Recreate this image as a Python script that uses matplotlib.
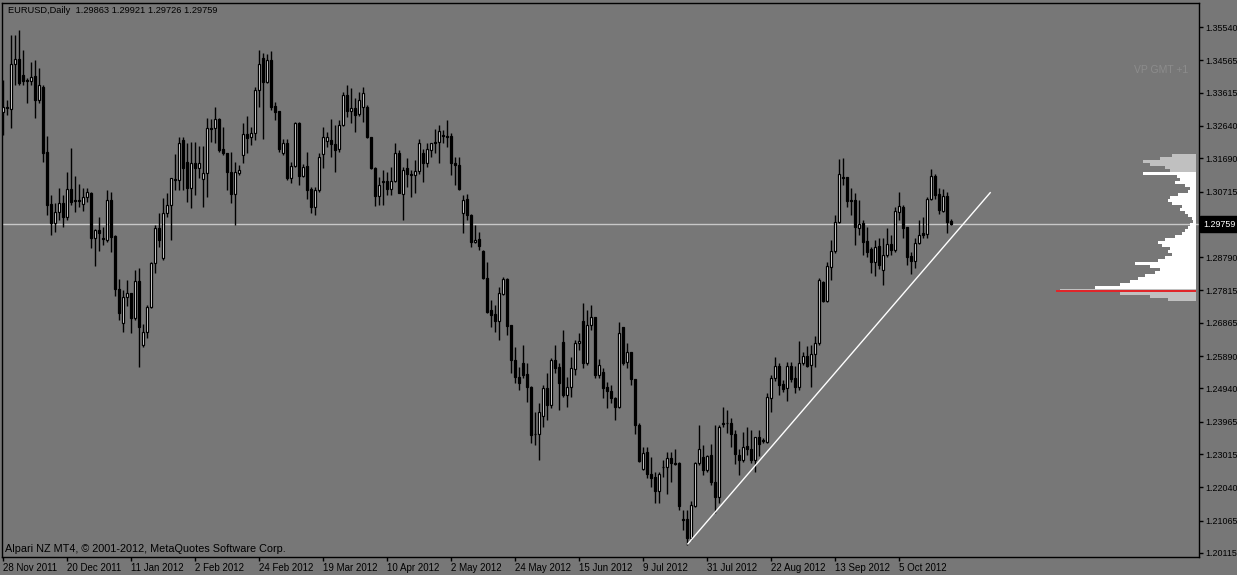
import numpy as np
import matplotlib
matplotlib.use('Agg')
import matplotlib.pyplot as plt
import matplotlib.transforms as mtransforms

# EURUSD daily bars, 28 Nov 2011 .. 23 Oct 2012
opens = [
    1.3305, 1.3319, 1.3314, 1.3445, 1.3461, 1.3413, 1.3399, 1.3396, 1.3410, 1.3340,
    1.3378, 1.3187, 1.3034, 1.2979, 1.3011, 1.3037, 1.2996, 1.3079, 1.3046, 1.3046,
    1.3034, 1.3055, 1.3067, 1.2935, 1.2958, 1.2935, 1.2929, 1.3046, 1.2941, 1.2785,
    1.2686, 1.2762, 1.2773, 1.2700, 1.2809, 1.2621, 1.2659, 1.2733, 1.2862, 1.2964,
    1.2877, 1.3008, 1.3031, 1.3105, 1.3105, 1.3222, 1.3158, 1.3081, 1.3155, 1.3140,
    1.3108, 1.3126, 1.3258, 1.3258, 1.3284, 1.3196, 1.3184, 1.3129, 1.3064, 1.3126,
    1.3178, 1.3240, 1.3231, 1.3243, 1.3369, 1.3463, 1.3393, 1.3457, 1.3322, 1.3308,
    1.3184, 1.3213, 1.3111, 1.3146, 1.3272, 1.3117, 1.3146, 1.3079, 1.3025, 1.3076,
    1.3181, 1.3219, 1.3222, 1.3210, 1.3196, 1.3266, 1.3355, 1.3308, 1.3317, 1.3299,
    1.3319, 1.3319, 1.3231, 1.3140, 1.3058, 1.3102, 1.3102, 1.3079, 1.3102, 1.3184,
    1.3064, 1.3140, 1.3123, 1.3120, 1.3132, 1.3184, 1.3155, 1.3193, 1.3216, 1.3216,
    1.3237, 1.3234, 1.3234, 1.3155, 1.3149, 1.3008, 1.3049, 1.3002, 1.2923, 1.2932,
    1.2897, 1.2818, 1.2724, 1.2712, 1.2692, 1.2770, 1.2815, 1.2680, 1.2577, 1.2527,
    1.2568, 1.2536, 1.2498, 1.2360, 1.2360, 1.2413, 1.2495, 1.2445, 1.2577, 1.2557,
    1.2630, 1.2475, 1.2498, 1.2551, 1.2627, 1.2692, 1.2568, 1.2680, 1.2703, 1.2533,
    1.2542, 1.2498, 1.2486, 1.2466, 1.2440, 1.2674, 1.2571, 1.2601, 1.2521, 1.2387,
    1.2258, 1.2308, 1.2243, 1.2234, 1.2193, 1.2264, 1.2264, 1.2290, 1.2275, 1.2275,
    1.2111, 1.2111, 1.2055, 1.2149, 1.2275, 1.2293, 1.2255, 1.2299, 1.2220, 1.2175,
    1.2393, 1.2393, 1.2393, 1.2360, 1.2299, 1.2284, 1.2325, 1.2316, 1.2284, 1.2351,
    1.2343, 1.2337, 1.2466, 1.2524, 1.2559, 1.2507, 1.2495, 1.2559, 1.2524, 1.2498,
    1.2568, 1.2589, 1.2562, 1.2595, 1.2627, 1.2806, 1.2750, 1.2850, 1.2897, 1.2982,
    1.3114, 1.3114, 1.3046, 1.3046, 1.2964, 1.2979, 1.2926, 1.2903, 1.2865, 1.2912,
    1.2841, 1.2885, 1.2917, 1.2900, 1.3011, 1.3025, 1.2967, 1.2883, 1.2868, 1.2920,
    1.2949, 1.2946, 1.3049, 1.3117, 1.3064, 1.3014, 1.3058, 1.29863]

highs = [
    1.3399, 1.3340, 1.3530, 1.3530, 1.3545, 1.3487, 1.3405, 1.3451, 1.3457, 1.3434,
    1.3384, 1.3234, 1.3061, 1.3037, 1.3081, 1.3061, 1.3129, 1.3199, 1.3117, 1.3093,
    1.3081, 1.3081, 1.3070, 1.2961, 1.2996, 1.2967, 1.3076, 1.3070, 1.2944, 1.2814,
    1.2782, 1.2812, 1.2773, 1.2841, 1.2847, 1.2683, 1.2738, 1.2865, 1.2973, 1.3008,
    1.3052, 1.3067, 1.3111, 1.3181, 1.3231, 1.3231, 1.3213, 1.3216, 1.3216, 1.3205,
    1.3205, 1.3287, 1.3284, 1.3319, 1.3287, 1.3261, 1.3184, 1.3187, 1.3158, 1.3149,
    1.3272, 1.3293, 1.3261, 1.3378, 1.3487, 1.3477, 1.3474, 1.3483, 1.3334, 1.3308,
    1.3225, 1.3225, 1.3158, 1.3275, 1.3275, 1.3152, 1.3187, 1.3085, 1.3085, 1.3184,
    1.3261, 1.3246, 1.3284, 1.3266, 1.3281, 1.3363, 1.3384, 1.3375, 1.3346, 1.3363,
    1.3378, 1.3325, 1.3231, 1.3143, 1.3114, 1.3135, 1.3129, 1.3143, 1.3213, 1.3193,
    1.3143, 1.3170, 1.3135, 1.3164, 1.3225, 1.3196, 1.3213, 1.3213, 1.3256, 1.3266,
    1.3252, 1.3281, 1.3243, 1.3172, 1.3172, 1.3061, 1.3064, 1.3005, 1.2973, 1.2952,
    1.2900, 1.2865, 1.2753, 1.2738, 1.2791, 1.2820, 1.2818, 1.2680, 1.2615, 1.2557,
    1.2621, 1.2568, 1.2501, 1.2425, 1.2451, 1.2504, 1.2539, 1.2583, 1.2621, 1.2568,
    1.2665, 1.2527, 1.2586, 1.2636, 1.2656, 1.2744, 1.2724, 1.2738, 1.2703, 1.2580,
    1.2554, 1.2513, 1.2504, 1.2469, 1.2689, 1.2674, 1.2627, 1.2601, 1.2521, 1.2393,
    1.2322, 1.2322, 1.2293, 1.2249, 1.2249, 1.2284, 1.2308, 1.2308, 1.2316, 1.2278,
    1.2137, 1.2137, 1.2164, 1.2278, 1.2387, 1.2328, 1.2299, 1.2331, 1.2387, 1.2387,
    1.2440, 1.2431, 1.2407, 1.2372, 1.2316, 1.2366, 1.2381, 1.2372, 1.2351, 1.2372,
    1.2348, 1.2481, 1.2533, 1.2586, 1.2568, 1.2519, 1.2571, 1.2571, 1.2559, 1.2633,
    1.2601, 1.2618, 1.2621, 1.2647, 1.2818, 1.2809, 1.2865, 1.2929, 1.3002, 1.3166,
    1.3169, 1.3114, 1.3081, 1.3067, 1.3046, 1.2988, 1.2967, 1.2909, 1.2929, 1.2935,
    1.2935, 1.2964, 1.2943, 1.3025, 1.3070, 1.3031, 1.2967, 1.2894, 1.2935, 1.2988,
    1.2996, 1.3055, 1.3137, 1.3123, 1.3081, 1.3079, 1.3070, 1.29921]

lows = [
    1.3237, 1.3296, 1.3258, 1.3384, 1.3384, 1.3384, 1.3331, 1.3384, 1.3287, 1.3331,
    1.3158, 1.3002, 1.2943, 1.2952, 1.2988, 1.2967, 1.2988, 1.3031, 1.3011, 1.3025,
    1.3014, 1.3040, 1.2906, 1.2853, 1.2897, 1.2914, 1.2923, 1.2894, 1.2765, 1.2695,
    1.2659, 1.2736, 1.2656, 1.2695, 1.2557, 1.2615, 1.2642, 1.2730, 1.2832, 1.2909,
    1.2871, 1.2996, 1.2929, 1.3076, 1.3076, 1.3076, 1.3040, 1.3023, 1.3061, 1.3111,
    1.3025, 1.3055, 1.3216, 1.3213, 1.3187, 1.3178, 1.3076, 1.3037, 1.2973, 1.3120,
    1.3155, 1.3184, 1.3208, 1.3222, 1.3319, 1.3225, 1.3390, 1.3311, 1.3281, 1.3187,
    1.3178, 1.3105, 1.3096, 1.3143, 1.3090, 1.3114, 1.3049, 1.3008, 1.3002, 1.3070,
    1.3140, 1.3202, 1.3172, 1.3129, 1.3187, 1.3263, 1.3290, 1.3272, 1.3246, 1.3293,
    1.3275, 1.3228, 1.3137, 1.3028, 1.3031, 1.3031, 1.3061, 1.3061, 1.3099, 1.3067,
    1.2988, 1.3085, 1.3055, 1.3067, 1.3123, 1.3099, 1.3143, 1.3172, 1.3184, 1.3155,
    1.3213, 1.3202, 1.3120, 1.3090, 1.3076, 1.2949, 1.2988, 1.2909, 1.2920, 1.2900,
    1.2815, 1.2715, 1.2674, 1.2659, 1.2636, 1.2768, 1.2651, 1.2539, 1.2510, 1.2489,
    1.2524, 1.2454, 1.2334, 1.2328, 1.2284, 1.2381, 1.2401, 1.2437, 1.2539, 1.2431,
    1.2469, 1.2440, 1.2469, 1.2533, 1.2607, 1.2554, 1.2562, 1.2665, 1.2524, 1.2524,
    1.2466, 1.2437, 1.2451, 1.2401, 1.2437, 1.2562, 1.2554, 1.2504, 1.2360, 1.2278,
    1.2255, 1.2231, 1.2205, 1.2158, 1.2158, 1.2234, 1.2184, 1.2220, 1.2270, 1.2137,
    1.2079, 1.2034, 1.2049, 1.2146, 1.2270, 1.2240, 1.2249, 1.2211, 1.2128, 1.2158,
    1.2381, 1.2363, 1.2322, 1.2273, 1.2240, 1.2278, 1.2299, 1.2275, 1.2249, 1.2296,
    1.2334, 1.2334, 1.2425, 1.2516, 1.2475, 1.2483, 1.2457, 1.2513, 1.2480, 1.2489,
    1.2562, 1.2557, 1.2498, 1.2557, 1.2621, 1.2747, 1.2747, 1.2812, 1.2891, 1.2979,
    1.3090, 1.3025, 1.3002, 1.2914, 1.2943, 1.2885, 1.2880, 1.2832, 1.2823, 1.2844,
    1.2797, 1.2880, 1.2885, 1.2894, 1.2988, 1.2935, 1.2856, 1.2829, 1.2847, 1.2917,
    1.2935, 1.2935, 1.3046, 1.3049, 1.3005, 1.3011, 1.2949, 1.29726]

closes = [
    1.3319, 1.3317, 1.3445, 1.3461, 1.3390, 1.3396, 1.3396, 1.3407, 1.3340, 1.3384,
    1.3184, 1.3031, 1.2979, 1.3011, 1.3037, 1.2996, 1.3079, 1.3040, 1.3043, 1.3045,
    1.3055, 1.3070, 1.2935, 1.2958, 1.2949, 1.2932, 1.3046, 1.2938, 1.2785, 1.2715,
    1.2762, 1.2773, 1.2700, 1.2809, 1.2674, 1.2659, 1.2733, 1.2862, 1.2964, 1.2929,
    1.3008, 1.3031, 1.3111, 1.3107, 1.3213, 1.3140, 1.3081, 1.3155, 1.3140, 1.3155,
    1.3126, 1.3258, 1.3256, 1.3284, 1.3193, 1.3184, 1.3129, 1.3064, 1.3129, 1.3135,
    1.3240, 1.3228, 1.3243, 1.3369, 1.3445, 1.3393, 1.3457, 1.3319, 1.3305, 1.3196,
    1.3213, 1.3111, 1.3146, 1.3272, 1.3117, 1.3143, 1.3076, 1.3025, 1.3076, 1.3172,
    1.3231, 1.3231, 1.3210, 1.3193, 1.3266, 1.3355, 1.3308, 1.3317, 1.3296, 1.3340,
    1.3360, 1.3231, 1.3140, 1.3058, 1.3090, 1.3099, 1.3079, 1.3102, 1.3184, 1.3067,
    1.3135, 1.3123, 1.3120, 1.3132, 1.3213, 1.3155, 1.3196, 1.3213, 1.3214, 1.3249,
    1.3235, 1.3232, 1.3155, 1.3149, 1.3079, 1.3046, 1.3002, 1.2923, 1.2929, 1.2911,
    1.2818, 1.2718, 1.2709, 1.2692, 1.2773, 1.2815, 1.2677, 1.2577, 1.2527, 1.2510,
    1.2533, 1.2498, 1.2358, 1.2361, 1.2425, 1.2495, 1.2445, 1.2577, 1.2554, 1.2510,
    1.2475, 1.2498, 1.2554, 1.2627, 1.2633, 1.2568, 1.2680, 1.2703, 1.2533, 1.2562,
    1.2495, 1.2486, 1.2466, 1.2440, 1.2656, 1.2568, 1.2601, 1.2521, 1.2387, 1.2281,
    1.2305, 1.2243, 1.2231, 1.2193, 1.2243, 1.2263, 1.2290, 1.2275, 1.2273, 1.2149,
    1.2109, 1.2055, 1.2152, 1.2275, 1.2316, 1.2255, 1.2296, 1.2220, 1.2175, 1.2381,
    1.2391, 1.2392, 1.2360, 1.2302, 1.2284, 1.2322, 1.2316, 1.2284, 1.2351, 1.2331,
    1.2341, 1.2469, 1.2524, 1.2559, 1.2504, 1.2492, 1.2559, 1.2521, 1.2498, 1.2568,
    1.2589, 1.2559, 1.2595, 1.2627, 1.2812, 1.2750, 1.2853, 1.2897, 1.2982, 1.3123,
    1.3112, 1.3043, 1.3045, 1.2967, 1.2976, 1.2923, 1.2894, 1.2865, 1.2909, 1.2856,
    1.2885, 1.2917, 1.2900, 1.3014, 1.3028, 1.2964, 1.2880, 1.2868, 1.2920, 1.2943,
    1.2943, 1.3049, 1.3117, 1.3061, 1.3017, 1.3058, 1.2982, 1.29759]

date_labels = ['28 Nov 2011', '20 Dec 2011', '11 Jan 2012', '2 Feb 2012', '24 Feb 2012',
               '19 Mar 2012', '10 Apr 2012', '2 May 2012', '24 May 2012', '15 Jun 2012',
               '9 Jul 2012', '31 Jul 2012', '22 Aug 2012', '13 Sep 2012', '5 Oct 2012']
label_step = 16

price_ticks = [1.35540, 1.34565, 1.33615, 1.32640, 1.31690, 1.30715, 1.28790,
               1.27815, 1.26865, 1.25890, 1.24940, 1.23965, 1.23015, 1.22040,
               1.21065, 1.20115]

# trend line (bar index, price)
trend_x = [171.2, 246.8]
trend_y = [1.2038, 1.3068]

# volume profile, top row first
vp_top = 1.3176
vp_step = 0.00088
vp_volume = [24, 36, 53, 46, 31, 26, 53, 19, 16, 21, 11, 6, 8, 18, 26, 28, 24,
             14, 16, 11, 8, 4, 3, 6, 8, 11, 14, 21, 31, 38, 34, 26, 28, 24, 31,
             38, 61, 46, 36, 41, 51, 58, 66, 76, 101, 136, 76, 46, 28]
va_high = 1.3125
va_low = 1.2784
poc = 1.2780

bg = '#777777'
font = ['Liberation Sans', 'DejaVu Sans']
plt.rcParams['font.family'] = font

n = len(closes)
idx = np.arange(n)
o = np.array(opens)
c = np.array(closes)
h = np.array(highs)
l = np.array(lows)

fig = plt.figure(figsize=(12.37, 5.75), dpi=100, facecolor=bg)
ax = fig.add_axes([2 / 1237, 1 - 557 / 575, 1197 / 1237, 554 / 575], facecolor=bg)
ax.set_xlim(-0.25, 299)
ax.set_ylim(1.19995, 1.36244)

# wicks and bodies
ax.vlines(idx, l, h, color='black', lw=1, zorder=2)
up = c >= o
body_h = np.where(np.abs(c - o) < 0.00002, 0.00002, c - o)
ax.bar(idx[up], body_h[up], bottom=o[up], width=0.62, color='white',
       edgecolor='black', linewidth=0.9, zorder=3)
ax.bar(idx[~up], body_h[~up], bottom=o[~up], width=0.62, color='black',
       edgecolor='black', linewidth=0.9, zorder=3)

# last price line
ax.axhline(closes[-1], color='#c8c8c8', lw=1, zorder=1)

# trend line
ax.plot(trend_x, trend_y, color='white', lw=1, zorder=4)

# volume profile on the right edge
px = 0.25  # bar units per volume unit
x_right = 298.25
levels = vp_top - vp_step * np.arange(len(vp_volume))
vols = np.array(vp_volume)
for lev, v in zip(levels, vols):
    col = 'white' if va_low <= lev <= va_high else '#c0c0c0'
    ax.barh(lev, v * px, left=x_right - v * px, height=vp_step, color=col,
            edgecolor='none', zorder=2)
ax.barh(poc, max(vols) * px + 1, left=x_right - max(vols) * px - 1, height=0.0004,
        color='#e0262a', edgecolor='none', zorder=5)

# axes formatting
for s in ax.spines.values():
    s.set_color('black')
    s.set_linewidth(1)
ax.yaxis.tick_right()
ax.set_yticks(price_ticks)
ax.set_yticklabels(['%.5f' % p for p in price_ticks])
ax.tick_params(axis='y', direction='out', length=3, width=1, pad=1.5,
               labelsize=6.4, colors='black')
ax.set_xticks(np.arange(len(date_labels)) * label_step)
ax.set_xticklabels(date_labels)
ax.tick_params(axis='x', direction='out', length=3, width=1, pad=1.5,
               labelsize=7, colors='black')
for lab in ax.get_xticklabels():
    lab.set_horizontalalignment('left')

# current price box on the axis
trans = mtransforms.blended_transform_factory(ax.transAxes, ax.transData)
ax.text(1 + 4 / 1197, closes[-1], '%.5f' % closes[-1], transform=trans,
        color='white', fontsize=6.4, va='center', ha='left', zorder=10,
        bbox=dict(boxstyle='square,pad=0.35', facecolor='black', edgecolor='black'))

# texts
ax.text(0.005, 0.987, 'EURUSD,Daily  %.5f %.5f %.5f %.5f' % (opens[-1], highs[-1], lows[-1], closes[-1]),
        transform=ax.transAxes, fontsize=6.7, color='black', va='center', ha='left')
ax.text(0.968, 0.879, 'VP GMT +1', transform=ax.transAxes, fontsize=7.5,
        color='#8c8c8c', va='center', ha='center')
ax.text(0.0025, 0.0144, 'Alpari NZ MT4, \u00a9 2001-2012, MetaQuotes Software Corp.',
        transform=ax.transAxes, fontsize=7.8, color='black', va='center', ha='left')

fig.savefig('out.png', dpi=100, facecolor=bg)
